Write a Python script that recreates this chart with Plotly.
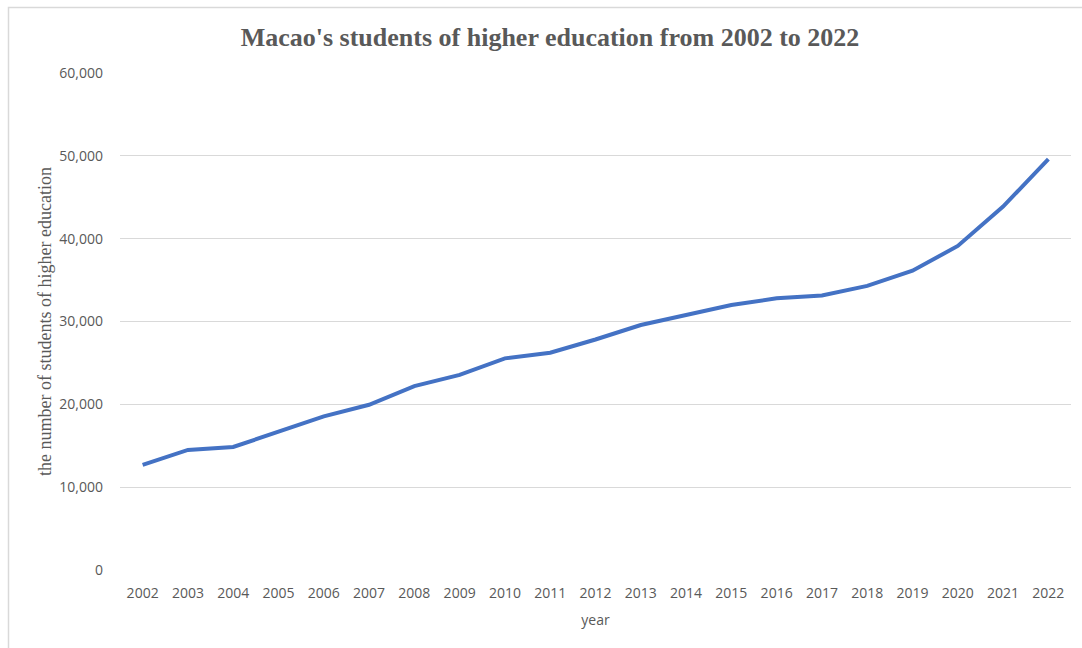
import plotly.graph_objects as go

# Enrolled higher-education students in Macao, by academic year
years = [str(y) for y in range(2002, 2023)]
students = [12700, 14500, 14850, 16700, 18550, 19950, 22200, 23550, 25550, 26230,
            27830, 29580, 30780, 32000, 32800, 33150, 34300, 36130, 39120, 43870, 49600]

y_ticks = [0, 10000, 20000, 30000, 40000, 50000, 60000]

W, H = 1082, 648
L, R, T, B = 120, 11, 73, 78
pw, ph = W - L - R, H - T - B


def px_x(p):
    return (p - L) / pw


def px_y(p):
    return (H - B - p) / ph


fig = go.Figure(
    go.Scatter(
        x=years,
        y=students,
        mode="lines",
        line=dict(color="#4472C4", width=4),
        hoverinfo="x+y",
    )
)

grey = "#595959"
fig.update_layout(
    width=W,
    height=H,
    margin=dict(l=L, r=R, t=T, b=B),
    paper_bgcolor="white",
    plot_bgcolor="white",
    showlegend=False,
    title=dict(
        text="<b>Macao's students of higher education from 2002 to 2022</b>",
        font=dict(family="Liberation Serif", size=26, color=grey),
        x=550 / W,
        xanchor="center",
        y=1 - 37 / H,
        yanchor="middle",
    ),
    xaxis=dict(
        type="category",
        range=[-0.5, 20.5],
        showgrid=False,
        zeroline=False,
        showline=False,
        ticks="",
        tickfont=dict(family="Open Sans", size=14, color=grey),
        ticklabelstandoff=13,
        title=dict(text="year", font=dict(family="Open Sans", size=14, color=grey), standoff=14),
        fixedrange=True,
    ),
    yaxis=dict(
        range=[0, 60000],
        tickvals=y_ticks,
        tickformat=",d",
        showgrid=True,
        gridcolor="#d9d9d9",
        gridwidth=1,
        zeroline=False,
        showline=False,
        ticks="",
        tickfont=dict(family="Open Sans", size=14, color=grey),
        ticklabelstandoff=16,
        title=dict(
            text="the number of students of higher education",
            font=dict(family="Liberation Serif", size=18, color=grey),
            standoff=3,
        ),
        fixedrange=True,
    ),
    shapes=[
        dict(
            type="rect",
            xref="paper",
            yref="paper",
            x0=px_x(8.5),
            x1=px_x(1090),
            y0=px_y(660),
            y1=px_y(7.5),
            line=dict(color="#d9d9d9", width=1.5),
            fillcolor="rgba(0,0,0,0)",
            layer="below",
        )
    ],
)

fig.write_html("out.html")
